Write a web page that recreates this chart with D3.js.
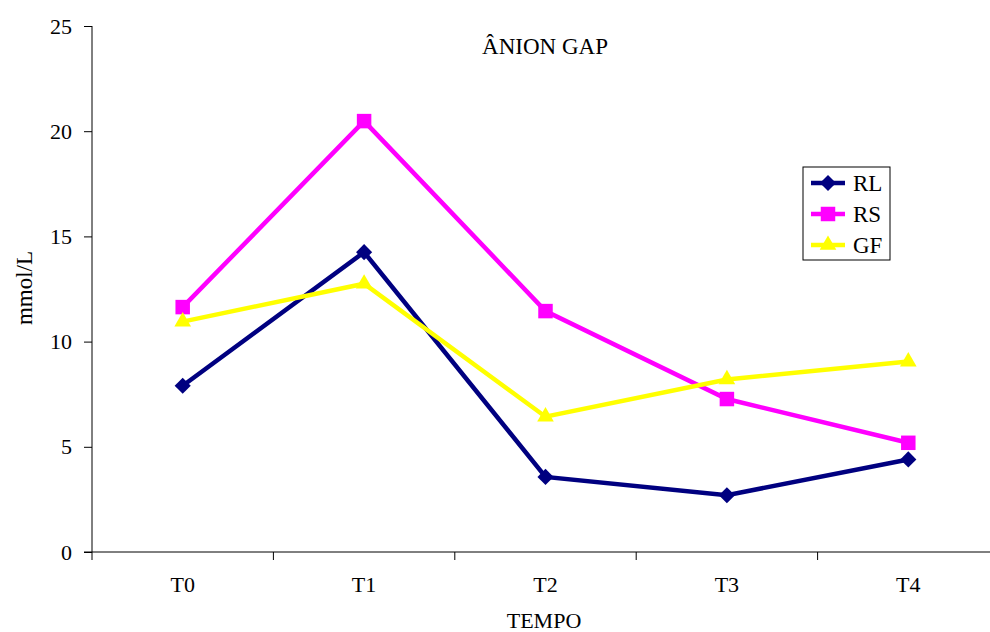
<!DOCTYPE html>
<html lang="pt">
<head>
<meta charset="UTF-8">
<title>Ânion Gap</title>
<script src="https://d3js.org/d3.v7.min.js"></script>
<style>
  body { margin: 0; background: #fff; }
  svg { display: block; font-family: "Liberation Serif", "Times New Roman", serif; }
  .axis text { font-size: 22px; fill: #000; font-family: "Liberation Serif", serif; }
  .axis path, .axis line { stroke: #000; }
</style>
</head>
<body>
<svg width="990" height="632"></svg>
<script>
const categories = ["T0", "T1", "T2", "T3", "T4"];
const seriesNames = ["RL", "RS", "GF"];
const rl = [7.9, 14.25, 3.57, 2.7, 4.4];
const rs = [11.64, 20.48, 11.45, 7.27, 5.19];
const gf = [10.95, 12.75, 6.43, 8.2, 9.05];
const yTicks = [0, 5, 10, 15, 20, 25];

const colors = { RL: "#000080", RS: "#FF00FF", GF: "#FFFF00" };
const series = [
  { name: "RL", values: rl },
  { name: "RS", values: rs },
  { name: "GF", values: gf }
];

// marker shapes: diamond = square turned 45deg
function marker(sel, name) {
  if (name === "RL") {
    sel.attr("d", d3.symbol().type(d3.symbolSquare).size(130))
      .attr("transform", function () { return d3.select(this).attr("transform") + " rotate(45)"; });
  } else if (name === "RS") {
    sel.attr("d", d3.symbol().type(d3.symbolSquare).size(210));
  } else {
    sel.attr("d", d3.symbol().type(d3.symbolTriangle).size(120));
  }
}

const width = 990, height = 632;
const margin = { top: 26, right: -9, bottom: 80, left: 92 };
const plotW = width - margin.left - margin.right;
const plotH = height - margin.top - margin.bottom;

const svg = d3.select("svg");
const g = svg.append("g").attr("transform", `translate(${margin.left},${margin.top})`);

const x = d3.scaleBand().domain(categories).range([0, plotW]);
const y = d3.scaleLinear().domain([0, 25]).range([plotH, 0]);

// y axis
g.append("g")
  .attr("class", "axis")
  .call(d3.axisLeft(y).tickValues(yTicks).tickSize(8).tickPadding(12).tickSizeOuter(0))
  .call(a => a.select(".domain").attr("d", `M0,${plotH}V0`));

// x axis (ticks between categories)
const xAxis = g.append("g")
  .attr("class", "axis")
  .attr("transform", `translate(0,${plotH})`);
xAxis.append("line").attr("x1", -8).attr("x2", plotW).attr("stroke", "#000");
xAxis.selectAll(".sep")
  .data(categories)
  .join("line")
  .attr("x1", d => x(d)).attr("x2", d => x(d))
  .attr("y1", 0).attr("y2", 8)
  .attr("stroke", "#000");
xAxis.selectAll(".lbl")
  .data(categories)
  .join("text")
  .attr("x", d => x(d) + x.bandwidth() / 2)
  .attr("y", 40)
  .attr("text-anchor", "middle")
  .text(d => d);

// lines
const line = d3.line()
  .x((d, i) => x(categories[i]) + x.bandwidth() / 2)
  .y(d => y(d));

series.forEach(s => {
  g.append("path")
    .datum(s.values)
    .attr("fill", "none")
    .attr("stroke", colors[s.name])
    .attr("stroke-width", 4.5)
    .attr("stroke-linejoin", "miter")
    .attr("d", line);
});

series.forEach(s => {
  g.selectAll(null)
    .data(s.values)
    .join("path")
    .attr("transform", (d, i) => `translate(${x(categories[i]) + x.bandwidth() / 2},${y(d)})`)
    .attr("fill", colors[s.name])
    .call(marker, s.name);
});

// title
svg.append("text")
  .attr("x", 545).attr("y", 54)
  .attr("text-anchor", "middle")
  .attr("font-size", 23)
  .text("ÂNION GAP");

// axis titles
svg.append("text")
  .attr("x", 544).attr("y", 628)
  .attr("text-anchor", "middle")
  .attr("font-size", 22)
  .text("TEMPO");

svg.append("text")
  .attr("transform", "translate(32,288) rotate(-90)")
  .attr("text-anchor", "middle")
  .attr("font-size", 23)
  .text("mmol/L");

// legend
const legend = svg.append("g").attr("transform", "translate(803,167)");
legend.append("rect")
  .attr("width", 87).attr("height", 93)
  .attr("fill", "#fff").attr("stroke", "#000");
seriesNames.forEach((name, i) => {
  const cy = 16 + i * 31;
  legend.append("line")
    .attr("x1", 8).attr("x2", 42).attr("y1", cy).attr("y2", cy)
    .attr("stroke", colors[name]).attr("stroke-width", 4.5);
  legend.append("path")
    .attr("transform", `translate(25,${cy})`)
    .attr("fill", colors[name])
    .call(marker, name);
  legend.append("text")
    .attr("x", 50).attr("y", cy + 8)
    .attr("font-size", 23)
    .text(name);
});
</script>
</body>
</html>
